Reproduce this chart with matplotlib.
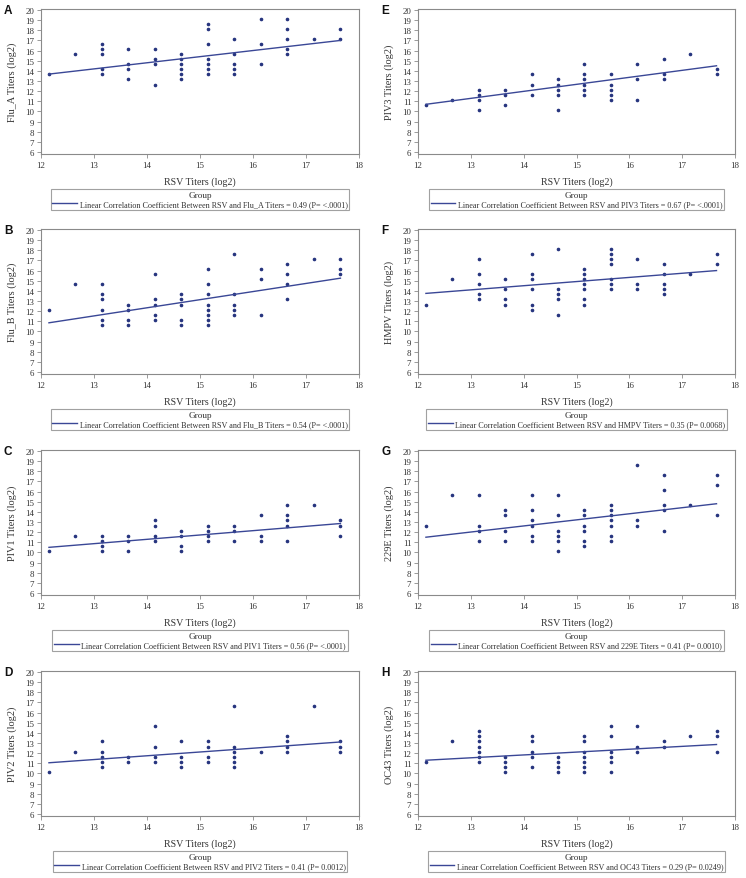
import matplotlib
matplotlib.use("Agg")
import matplotlib.pyplot as plt
from matplotlib.lines import Line2D

# ---------------- data ----------------
rsv_levels = [12.15, 12.65, 13.15, 13.65, 14.15, 14.65, 15.15, 15.65, 16.15, 16.65, 17.15, 17.65]

flu_a_y = [[13.65], [15.65], [16.65, 16.15, 15.65, 14.15, 13.65], [16.15, 14.65, 14.15, 13.15],
           [16.15, 15.15, 14.65, 12.65], [15.65, 15.15, 14.65, 14.15, 13.65, 13.15],
           [18.65, 18.15, 16.65, 15.15, 14.65, 14.15, 13.65], [17.15, 15.65, 14.65, 14.15, 13.65],
           [19.15, 16.65, 14.65], [19.15, 18.15, 17.15, 16.15, 15.65], [17.15], [18.15, 17.15]]
flu_b_y = [[12.15], [14.65], [14.65, 13.65, 13.15, 12.15, 11.15, 10.65], [12.65, 12.15, 11.15, 10.65],
           [15.65, 13.15, 12.65, 11.65, 11.15], [13.65, 13.15, 12.65, 11.15, 10.65],
           [16.15, 14.65, 13.65, 12.65, 12.15, 11.65, 11.15, 10.65], [17.65, 13.65, 12.65, 12.15, 11.65],
           [16.15, 15.15, 11.65], [16.65, 15.65, 14.65, 13.15], [17.15], [17.15, 16.15, 15.65]]
piv1_y = [[10.15], [11.65], [11.65, 11.15, 10.65, 10.15], [11.65, 11.15, 10.15],
          [13.15, 12.65, 11.65, 11.15], [12.15, 11.65, 10.65, 10.15],
          [12.65, 12.15, 11.65, 11.15], [12.65, 12.15, 11.15],
          [13.65, 11.65, 11.15], [14.65, 13.65, 13.15, 12.65, 11.15], [14.65], [13.15, 12.65, 11.65]]
piv2_y = [[10.15], [12.15], [13.15, 12.15, 11.65, 11.15, 10.65], [11.65, 11.15],
          [14.65, 12.65, 11.65, 11.15], [13.15, 11.65, 11.15, 10.65],
          [13.15, 12.65, 11.65, 11.15], [16.65, 12.65, 12.15, 11.65, 11.15, 10.65],
          [12.15], [13.65, 13.15, 12.65, 12.15], [16.65], [13.15, 12.65, 12.15]]
piv3_y = [[10.65], [11.15], [12.15, 11.65, 11.15, 10.15], [12.15, 11.65, 10.65],
          [13.65, 12.65, 11.65], [13.15, 12.65, 12.15, 11.65, 10.15],
          [14.65, 13.65, 13.15, 12.65, 12.15, 11.65], [13.65, 12.65, 12.15, 11.65, 11.15],
          [14.65, 13.15, 11.15], [15.15, 13.65, 13.15], [15.65], [14.15, 13.65]]
hmpv_y = [[12.65], [15.15], [17.15, 15.65, 14.65, 13.65, 13.15], [15.15, 14.15, 13.15, 12.65],
          [17.65, 15.65, 15.15, 14.15, 12.65, 12.15], [18.15, 14.15, 13.65, 13.15, 11.65],
          [16.15, 15.65, 15.15, 14.65, 14.15, 13.15, 12.65], [18.15, 17.65, 17.15, 16.65, 15.15, 14.65, 14.15],
          [17.15, 14.65, 14.15], [16.65, 15.65, 14.65, 14.15, 13.65], [15.65], [17.65, 16.65]]
e229_y = [[12.65], [15.65], [15.65, 12.65, 12.15, 11.15], [14.15, 13.65, 12.15, 11.15],
          [15.65, 14.15, 13.15, 12.65, 11.65, 11.15], [15.65, 13.65, 12.15, 11.65, 11.15, 10.15],
          [14.15, 13.65, 12.65, 12.15, 11.15, 10.65], [14.65, 14.15, 13.65, 13.15, 12.65, 11.65, 11.15],
          [18.65, 13.15, 12.65], [17.65, 16.15, 14.65, 14.15, 12.15], [14.65], [17.65, 16.65, 13.65]]
oc43_y = [[11.15], [13.15], [14.15, 13.65, 13.15, 12.65, 12.15, 11.65, 11.15], [11.65, 11.15, 10.65, 10.15],
          [13.65, 13.15, 12.15, 11.65, 10.65], [11.65, 11.15, 10.65, 10.15],
          [13.65, 13.15, 12.15, 11.65, 11.15, 10.65, 10.15], [14.65, 13.65, 12.15, 11.65, 11.15, 10.15],
          [14.65, 12.65, 12.15], [13.15, 12.65], [13.65], [14.15, 13.65, 12.15]]

panel_letters = ["A", "B", "C", "D", "E", "F", "G", "H"]
virus_names = ["Flu_A", "Flu_B", "PIV1", "PIV2", "PIV3", "HMPV", "229E", "OC43"]
panel_data = [flu_a_y, flu_b_y, piv1_y, piv2_y, piv3_y, hmpv_y, e229_y, oc43_y]
corr_r = ["0.49", "0.54", "0.56", "0.41", "0.67", "0.35", "0.41", "0.29"]
corr_p = ["<.0001", "<.0001", "<.0001", "0.0012", "<.0001", "0.0068", "0.0010", "0.0249"]
fit_start = [13.68, 10.85, 10.5, 11.05, 10.7, 13.75, 11.5, 11.3]
fit_end = [17.0, 15.25, 12.85, 13.1, 14.5, 16.0, 14.8, 12.85]

x_ticks = [12, 13, 14, 15, 16, 17, 18]
y_ticks = list(range(6, 21))

# ---------------- style ----------------
W, H = 746, 879
fig = plt.figure(figsize=(W / 100, H / 100), dpi=100)
serif = ["Liberation Serif", "DejaVu Serif"]
mark_col = "#27357f"
line_col = "#3a4796"
frame_col = "#8a8a8a"
text_col = "#333333"

col_left = [41, 418]
col_width = [318, 317]
row_top = [10, 230, 451, 672]
ax_h = 145

for i in range(8):
    col = i // 4
    row = i % 4
    left = col_left[col] / W
    bottom = 1 - (row_top[row] + ax_h) / H
    ax = fig.add_axes([left, bottom, col_width[col] / W, ax_h / H])

    xs, ys = [], []
    for xv, yl in zip(rsv_levels, panel_data[i]):
        for yv in yl:
            xs.append(xv)
            ys.append(yv)
    ax.plot(xs, ys, linestyle="none", marker="o", ms=1.6, color=mark_col, mec=mark_col)
    ax.plot([rsv_levels[0], rsv_levels[-1]], [fit_start[i], fit_end[i]],
            color=line_col, lw=1.0)

    ax.set_xlim(12, 18)
    ax.set_ylim(5.8, 20.1)
    ax.set_xticks(x_ticks)
    ax.set_yticks(y_ticks)
    for s in ax.spines.values():
        s.set_color(frame_col)
        s.set_linewidth(0.8)
    ax.tick_params(direction="out", length=3, width=0.6, color=frame_col,
                   labelsize=6.4, labelcolor=text_col, pad=1.8)
    for lab in ax.get_xticklabels() + ax.get_yticklabels():
        lab.set_family(serif)

    ax.set_xlabel("RSV Titers (log2)", family=serif, fontsize=7.2, color=text_col, va="center")
    ax.xaxis.set_label_coords(0.5, -0.19)
    ax.set_ylabel(f"{virus_names[i]} Titers (log2)", family=serif, fontsize=7.4,
                  color=text_col, va="center")
    ax.yaxis.set_label_coords(-0.09, 0.5)

    label = (f"Linear Correlation Coefficient Between RSV and {virus_names[i]} Titers = "
             f"{corr_r[i]} (P= {corr_p[i]})")
    handle = Line2D([], [], color=line_col, lw=1.0)
    leg = ax.legend([handle], [label], loc="upper center", bbox_to_anchor=(0.5, -0.24),
                    title="Group", frameon=True, fancybox=False, edgecolor=frame_col,
                    prop={"family": serif, "size": 5.9}, handlelength=3.0, handletextpad=0.3,
                    borderpad=0.22, borderaxespad=0, labelspacing=0.2,
                    title_fontproperties={"family": serif, "size": 6.7})
    leg.get_frame().set_linewidth(0.8)
    for t in leg.get_texts():
        t.set_color(text_col)
    leg.get_title().set_color(text_col)

    fig.text((col_left[col] - 37) / W, 1 - (row_top[row] - 5) / H, panel_letters[i],
             family=["Liberation Sans", "DejaVu Sans"], fontweight="bold", fontsize=8.5,
             va="top", ha="left", color="#111111")

fig.savefig("out.png", dpi=100)
